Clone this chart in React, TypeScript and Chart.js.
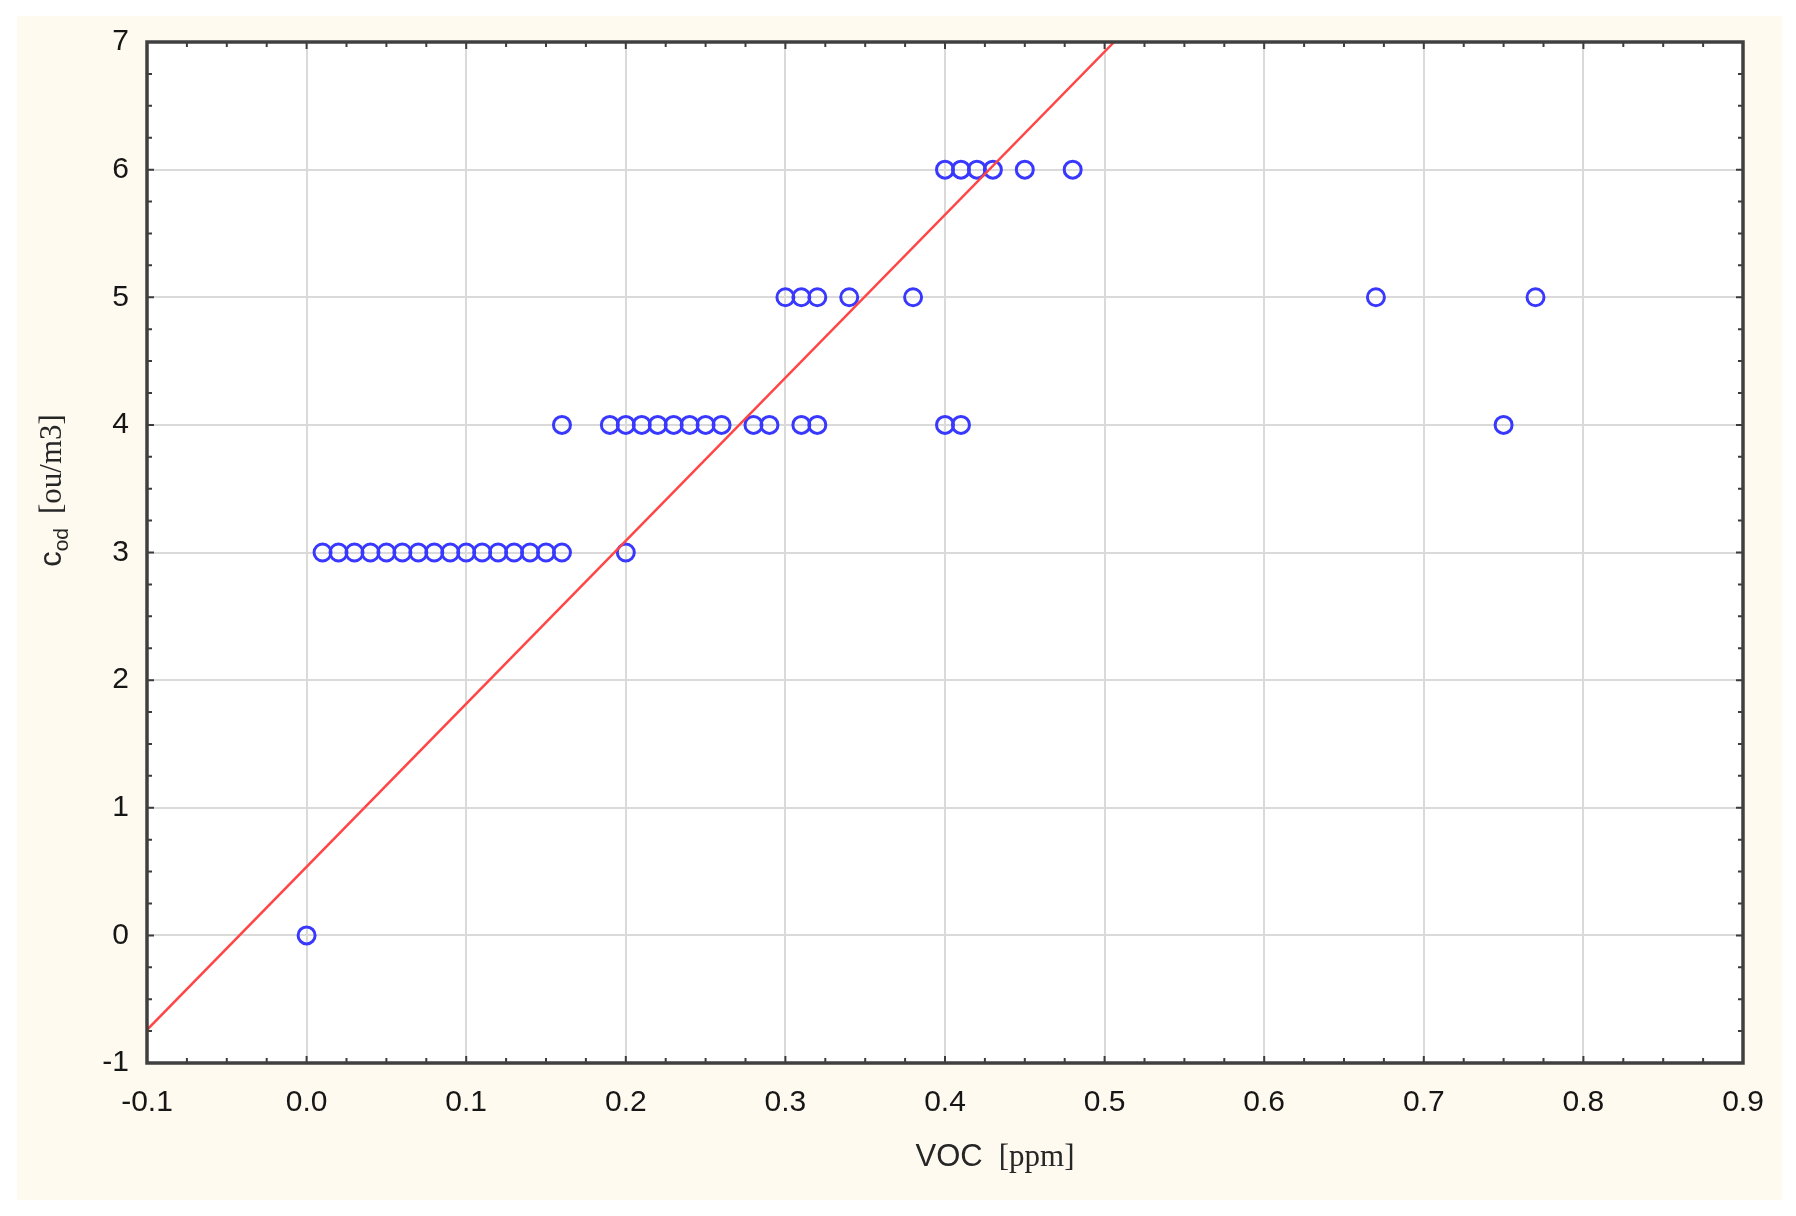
import { useEffect, useRef } from "react";
import { Chart, registerables } from "chart.js";

Chart.register(...registerables);

// c_od level (ou/m3) for each row of points
const odourLevels = [0, 3, 4, 5, 6];

// VOC readings (ppm) sitting on each odour level
const vocAt0 = [0.0];
const vocAt3 = [
  0.01, 0.02, 0.03, 0.04, 0.05, 0.06, 0.07, 0.08, 0.09, 0.1, 0.11, 0.12, 0.13,
  0.14, 0.15, 0.16, 0.2,
];
const vocAt4 = [
  0.16, 0.19, 0.2, 0.21, 0.22, 0.23, 0.24, 0.25, 0.26, 0.28, 0.29, 0.31, 0.32,
  0.4, 0.41, 0.75,
];
const vocAt5 = [0.3, 0.31, 0.32, 0.34, 0.38, 0.67, 0.77];
const vocAt6 = [0.4, 0.41, 0.42, 0.43, 0.45, 0.48];

// fitted regression line end points
const fitVoc = [-0.1, 0.506];
const fitOdour = [-0.74, 7.0];

const xTitleMain = "VOC";
const xTitleUnit = "[ppm]";
const yTitleMain = "c";
const yTitleSub = "od";
const yTitleUnit = "[ou/m3]";

const sans = '"Liberation Sans", Arial, sans-serif';
const serif = '"Liberation Serif", "Times New Roman", serif';

const framePlugin = {
  id: "statFrame",
  beforeDraw(chart: any) {
    const { ctx, chartArea } = chart;
    ctx.save();
    ctx.fillStyle = "#ffffff";
    ctx.fillRect(
      chartArea.left,
      chartArea.top,
      chartArea.right - chartArea.left,
      chartArea.bottom - chartArea.top
    );
    ctx.restore();
  },
  afterDraw(chart: any) {
    const { ctx, chartArea, scales } = chart;
    const { left, top, right, bottom } = chartArea;
    const x = scales.x;
    const y = scales.y;
    ctx.save();

    // inward tick marks, major + minor
    ctx.strokeStyle = "#3c3c3c";
    ctx.lineWidth = 2;
    ctx.beginPath();
    for (let i = 0; i <= 40; i++) {
      const px = x.getPixelForValue(-0.1 + i * 0.025);
      const len = i % 4 === 0 ? 7 : 5;
      ctx.moveTo(px, bottom);
      ctx.lineTo(px, bottom - len);
      ctx.moveTo(px, top);
      ctx.lineTo(px, top + len);
    }
    for (let i = 0; i <= 32; i++) {
      const py = y.getPixelForValue(-1 + i * 0.25);
      const len = i % 4 === 0 ? 7 : 5;
      ctx.moveTo(left, py);
      ctx.lineTo(left + len, py);
      ctx.moveTo(right, py);
      ctx.lineTo(right - len, py);
    }
    ctx.stroke();

    ctx.lineWidth = 3.5;
    ctx.strokeStyle = "#404040";
    ctx.strokeRect(left, top, right - left, bottom - top);

    // x axis title: sans "VOC" + serif "[ppm]"
    ctx.fillStyle = "#262626";
    ctx.textBaseline = "alphabetic";
    ctx.textAlign = "left";
    const gap = 16;
    ctx.font = `31px ${sans}`;
    const wMain = ctx.measureText(xTitleMain).width;
    ctx.font = `31px ${serif}`;
    const wUnit = ctx.measureText(xTitleUnit).width;
    let sx = (left + right) / 2 + 50 - (wMain + gap + wUnit) / 2;
    const baseX = bottom + 103;
    ctx.font = `31px ${sans}`;
    ctx.fillText(xTitleMain, sx, baseX);
    ctx.font = `31px ${serif}`;
    ctx.fillText(xTitleUnit, sx + wMain + gap, baseX);

    // y axis title: c with subscript od, then [ou/m3], rotated
    ctx.translate(left - 86, (top + bottom) / 2 - 62);
    ctx.rotate(-Math.PI / 2);
    ctx.font = `31px ${sans}`;
    const wc = ctx.measureText(yTitleMain).width;
    ctx.font = `21px ${sans}`;
    const ws = ctx.measureText(yTitleSub).width;
    ctx.font = `31px ${serif}`;
    const wu = ctx.measureText(yTitleUnit).width;
    const ygap = 14;
    sx = -(wc + ws + ygap + wu) / 2;
    ctx.font = `31px ${sans}`;
    ctx.fillText(yTitleMain, sx, 0);
    ctx.font = `21px ${sans}`;
    ctx.fillText(yTitleSub, sx + wc, 7);
    ctx.font = `31px ${serif}`;
    ctx.fillText(yTitleUnit, sx + wc + ws + ygap, 0);

    ctx.restore();
  },
};

export default function App() {
  const canvasRef = useRef<HTMLCanvasElement | null>(null);
  const chartRef = useRef<Chart | null>(null);

  useEffect(() => {
    const canvas = canvasRef.current;
    if (!canvas) return;
    if (chartRef.current) chartRef.current.destroy();

    const rows = [vocAt0, vocAt3, vocAt4, vocAt5, vocAt6];
    const points: { x: number; y: number }[] = [];
    rows.forEach((row, i) => {
      row.forEach((v) => points.push({ x: v, y: odourLevels[i] }));
    });
    const fit = fitVoc.map((v, i) => ({ x: v, y: fitOdour[i] }));

    chartRef.current = new Chart(canvas, {
      type: "scatter",
      data: {
        datasets: [
          {
            type: "line",
            data: fit,
            borderColor: "#ff4545",
            borderWidth: 2.5,
            pointRadius: 0,
            showLine: true,
            fill: false,
          },
          {
            data: points,
            pointStyle: "circle",
            pointRadius: 8.5,
            pointBorderWidth: 3,
            pointBorderColor: "#3838ff",
            pointBackgroundColor: "rgba(0,0,0,0)",
          },
        ],
      },
      options: {
        animation: false,
        responsive: true,
        maintainAspectRatio: false,
        layout: { padding: { left: 0, top: 26, right: 39, bottom: 0 } },
        plugins: { legend: { display: false }, tooltip: { enabled: false } },
        scales: {
          x: {
            type: "linear",
            min: -0.1,
            max: 0.9,
            afterFit: (s: any) => {
              s.height = 137;
              s.paddingLeft = 0;
              s.paddingRight = 0;
            },
            ticks: {
              stepSize: 0.1,
              autoSkip: false,
              maxRotation: 0,
              padding: 22,
              color: "#161616",
              font: { family: sans, size: 30 },
              callback: (v: any) => Number(v).toFixed(1),
            },
            grid: { color: "#dadada", lineWidth: 2, drawTicks: false },
            border: { display: false },
          },
          y: {
            type: "linear",
            min: -1,
            max: 7,
            afterFit: (s: any) => {
              s.width = 130;
              s.paddingTop = 0;
              s.paddingBottom = 0;
            },
            ticks: {
              stepSize: 1,
              padding: 18,
              color: "#161616",
              font: { family: sans, size: 30 },
            },
            grid: { color: "#dadada", lineWidth: 2, drawTicks: false },
            border: { display: false },
          },
        },
      },
      plugins: [framePlugin],
    });

    return () => {
      chartRef.current?.destroy();
      chartRef.current = null;
    };
  }, []);

  return (
    <div
      style={{
        position: "fixed",
        left: 0,
        top: 0,
        width: 1796,
        height: 1216,
        background: "#ffffff",
      }}
    >
      <div
        style={{
          position: "absolute",
          left: 17,
          top: 16,
          width: 1765,
          height: 1184,
          background: "#fffaf0",
        }}
      >
        <canvas ref={canvasRef}></canvas>
      </div>
    </div>
  );
}
